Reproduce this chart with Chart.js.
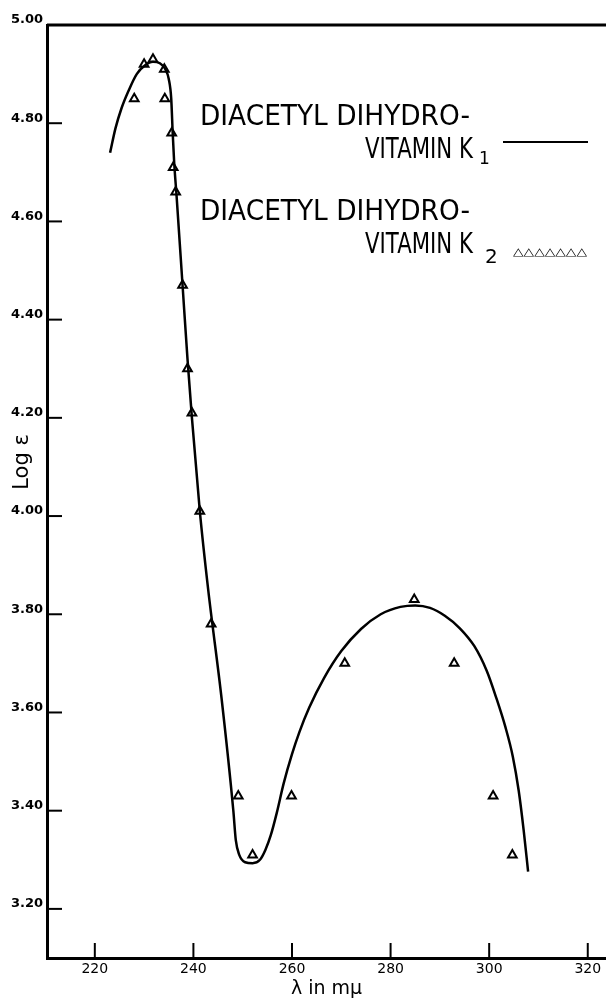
<!DOCTYPE html>
<html>
<head>
<meta charset="utf-8">
<script src="https://cdn.jsdelivr.net/npm/chart.js@4.4.1/dist/chart.umd.min.js"></script>
<style>
  html, body { margin: 0; padding: 0; background: #fff; }
  #wrap { width: 606px; height: 999px; }
</style>
</head>
<body>
<div id="wrap"><canvas id="uvChart" width="606" height="999"></canvas></div>
<script>
// axis ticks
const xTicks = [220, 240, 260, 280, 300, 320];
const yTicks = [3.2, 3.4, 3.6, 3.8, 4.0, 4.2, 4.4, 4.6, 4.8, 5.0];

// diacetyl dihydrovitamin K1 (smooth curve)
const k1Wavelength = [223.1, 224.2, 225.4, 226.8, 228.5, 230.2, 231.8, 233.2, 234.3, 235.0, 235.5, 235.8, 236.1, 236.6, 237.8, 238.8, 239.7, 241.3, 243.0, 245.7, 248.1, 248.6, 249.3, 250.5, 252.0, 253.5, 254.6, 255.7, 256.9, 258.3, 260.0, 261.5, 263.5, 266.5, 270.0, 274.0, 278.0, 282.0, 285.0, 288.0, 291.0, 294.0, 297.0, 299.5, 301.5, 303.3, 304.8, 306.0, 307.0, 307.9];
const k1LogE = [4.74, 4.79, 4.83, 4.865, 4.90, 4.918, 4.925, 4.922, 4.91, 4.89, 4.85, 4.78, 4.72, 4.65, 4.47, 4.32, 4.20, 4.01, 3.85, 3.63, 3.40, 3.34, 3.31, 3.295, 3.293, 3.30, 3.32, 3.35, 3.395, 3.455, 3.515, 3.56, 3.61, 3.67, 3.725, 3.77, 3.80, 3.815, 3.818, 3.813, 3.797, 3.772, 3.735, 3.685, 3.628, 3.57, 3.51, 3.44, 3.36, 3.276];

// diacetyl dihydrovitamin K2 (triangles)
const k2Wavelength = [228.0, 230.0, 231.8, 234.1, 234.2, 235.6, 235.9, 236.4, 237.8, 238.8, 239.7, 241.3, 243.6, 249.1, 252.0, 259.9, 270.7, 284.8, 292.9, 300.8, 304.7];
const k2LogE = [4.85, 4.92, 4.93, 4.91, 4.85, 4.78, 4.71, 4.66, 4.47, 4.30, 4.21, 4.01, 3.78, 3.43, 3.31, 3.43, 3.70, 3.83, 3.70, 3.43, 3.31];

const legendFont = "29px 'DejaVu Sans', sans-serif";

function fitText(ctx, text, x, baseline, width, font) {
  ctx.font = font;
  const w = ctx.measureText(text).width;
  ctx.save();
  ctx.translate(x, baseline);
  ctx.scale(width / w, 1);
  ctx.fillText(text, 0, 0);
  ctx.restore();
}

// frame top, inward tick marks, y title and the hand-lettered legend
const paperFrame = {
  id: 'paperFrame',
  afterDraw(chart) {
    const { ctx, chartArea, scales } = chart;
    ctx.save();
    ctx.strokeStyle = '#000';
    ctx.fillStyle = '#000';
    ctx.lineWidth = 3;
    ctx.beginPath();
    ctx.moveTo(chartArea.left, chartArea.top);
    ctx.lineTo(chartArea.right, chartArea.top);
    ctx.stroke();

    ctx.lineWidth = 2;
    yTicks.forEach(v => {
      const y = scales.y.getPixelForValue(v);
      ctx.beginPath();
      ctx.moveTo(chartArea.left, y);
      ctx.lineTo(chartArea.left + 15, y);
      ctx.stroke();
    });
    xTicks.forEach(v => {
      const x = scales.x.getPixelForValue(v);
      ctx.beginPath();
      ctx.moveTo(x, chartArea.bottom);
      ctx.lineTo(x, chartArea.bottom - 15);
      ctx.stroke();
    });

    // y axis title
    ctx.save();
    ctx.translate(28, 462);
    ctx.rotate(-Math.PI / 2);
    ctx.textAlign = 'center';
    ctx.textBaseline = 'alphabetic';
    ctx.font = "21px 'DejaVu Sans', sans-serif";
    ctx.fillText('Log ε', 0, 0);
    ctx.restore();

    ctx.textBaseline = 'alphabetic';
    fitText(ctx, 'DIACETYL DIHYDRO-', 200, 125, 270, legendFont);
    fitText(ctx, 'VITAMIN K', 365, 158, 108, legendFont);
    ctx.font = "17px 'DejaVu Sans', sans-serif";
    ctx.fillText('1', 479, 164);
    ctx.lineWidth = 2;
    ctx.beginPath();
    ctx.moveTo(503, 142);
    ctx.lineTo(588, 142);
    ctx.stroke();

    fitText(ctx, 'DIACETYL DIHYDRO-', 200, 220, 270, legendFont);
    fitText(ctx, 'VITAMIN K', 365, 253, 108, legendFont);
    ctx.font = "20px 'DejaVu Sans', sans-serif";
    ctx.fillText('2', 485, 263);
    fitText(ctx, '△△△△△△△', 513, 255, 74, "bold 11px 'DejaVu Sans', sans-serif");
    ctx.restore();
  }
};

new Chart(document.getElementById('uvChart'), {
  type: 'scatter',
  data: {
    datasets: [
      {
        label: 'Diacetyl dihydrovitamin K1',
        data: k1Wavelength.map((x, i) => ({ x, y: k1LogE[i] })),
        showLine: true,
        borderColor: '#000',
        borderWidth: 2.5,
        pointRadius: 0,
        cubicInterpolationMode: 'monotone',
        fill: false,
      },
      {
        label: 'Diacetyl dihydrovitamin K2',
        data: k2Wavelength.map((x, i) => ({ x, y: k2LogE[i] })),
        showLine: false,
        pointStyle: 'triangle',
        pointRadius: 5,
        pointBorderWidth: 2,
        pointBackgroundColor: '#fff',
        pointBorderColor: '#000',
      },
    ],
  },
  options: {
    responsive: false,
    animation: false,
    layout: { autoPadding: false, padding: { top: 25, right: 0, left: 0, bottom: 0 } },
    plugins: { legend: { display: false }, tooltip: { enabled: false } },
    scales: {
      x: {
        type: 'linear',
        min: 210.3,
        max: 323.7,
        afterBuildTicks: s => { s.ticks = xTicks.map(v => ({ value: v })); },
        afterFit: s => { s.height = 41; s.paddingLeft = 0; s.paddingRight = 0; },
        grid: { display: false, drawTicks: false },
        border: { display: true, width: 3, color: '#000' },
        ticks: { color: '#000', padding: 3, maxRotation: 0, font: { family: "'DejaVu Sans'", size: 14 } },
        title: { display: true, text: 'λ in mμ', color: '#000', padding: 0, font: { family: "'DejaVu Sans'", size: 19, lineHeight: 1.0 } },
      },
      y: {
        type: 'linear',
        min: 3.1,
        max: 5.0,
        afterBuildTicks: s => { s.ticks = yTicks.map(v => ({ value: v })); },
        afterFit: s => { s.width = 47; s.paddingTop = 0; s.paddingBottom = 0; },
        grid: { display: false, drawTicks: false },
        border: { display: true, width: 3, color: '#000' },
        ticks: {
          color: '#000', padding: 4, labelOffset: -5,
          font: { family: "'DejaVu Sans'", size: 13, weight: 'bold' },
          callback: v => v.toFixed(2),
        },
      },
    },
  },
  plugins: [paperFrame],
});
</script>
</body>
</html>
